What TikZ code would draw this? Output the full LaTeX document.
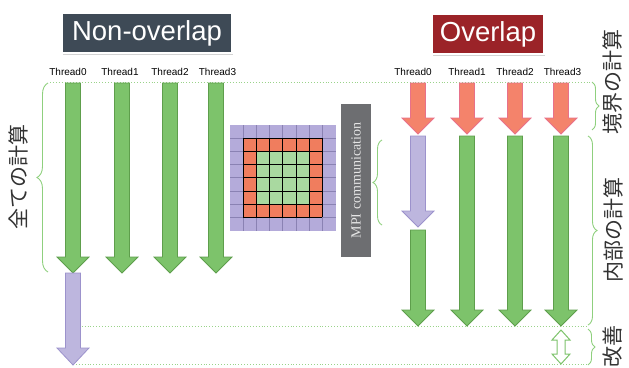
\documentclass[tikz,border=0pt]{standalone}
\usepackage{fontspec}
\setmainfont{Liberation Sans}
\newfontfamily\jpfont{Noto Sans CJK JP}
\newfontfamily\serifont{Liberation Serif}
\usetikzlibrary{decorations.pathreplacing,shadows}

\definecolor{arrgreen}{HTML}{7DC36B}
\definecolor{arrgreenedge}{HTML}{5E9E4C}
\definecolor{arrorange}{HTML}{F4836B}
\definecolor{arrorangeedge}{HTML}{E8718A}
\definecolor{arrlav}{HTML}{BDB6DE}
\definecolor{arrlavedge}{HTML}{9C92CC}
\definecolor{bracegreen}{HTML}{8FD07E}
\definecolor{dotgreen}{HTML}{9AD38A}
\definecolor{titledark}{HTML}{3E4A56}
\definecolor{titlered}{HTML}{9B2328}
\definecolor{mpigray}{HTML}{6D6E71}
\definecolor{cellborder}{HTML}{B4ABDA}
\definecolor{cellline}{HTML}{8A82B3}
\definecolor{cellring}{HTML}{F07D5E}
\definecolor{cellinner}{HTML}{A9D9A0}
\definecolor{jptext}{HTML}{333333}

% down arrow: x, top, head base, tip, style
\newcommand{\dnarrow}[5]{%
  \draw[#5] (#1-7.5,#2) -- (#1+7.5,#2) -- (#1+7.5,#3) -- (#1+16,#3)
    -- (#1,#4) -- (#1-16,#3) -- (#1-7.5,#3) -- cycle;}

\tikzset{
  greenarr/.style={fill=arrgreen,draw=arrgreenedge,line width=0.8pt,line join=miter},
  orangearr/.style={fill=arrorange,draw=arrorangeedge,line width=0.8pt},
  lavarr/.style={fill=arrlav,draw=arrlavedge,line width=0.8pt},
  threadlbl/.style={font=\fontsize{10}{12}\selectfont,inner sep=0pt},
  titlebox/.style={draw=white,line width=2pt,text=white,minimum height=40pt,
    font=\fontsize{27.5}{30}\selectfont,inner xsep=8pt,
    drop shadow={shadow xshift=1pt,shadow yshift=-1.5pt,opacity=0.35}},
  jplbl/.style={rotate=90,text=jptext,font=\jpfont\fontsize{21}{24}\selectfont,inner sep=0pt},
  bracelbl/.style={draw=bracegreen,line width=0.9pt,decorate},
  dotline/.style={draw=dotgreen,dotted,line width=0.9pt},
}

\begin{document}
\begin{tikzpicture}[x=1pt,y=-1pt]
\useasboundingbox (0,0) rectangle (629,367);

% titles
\node[titlebox,fill=titledark,minimum width=170pt] (tnon) at (147,33) {Non-overlap};
\node[titlebox,fill=titlered,minimum width=110pt] (tov) at (488,34) {Overlap};

% thread labels
\foreach \n/\x in {0/68,1/120,2/170,3/217.5}
  \node[threadlbl] (nl\n) at (\x,72) {Thread\n};
\foreach \n/\x in {0/413,1/467,2/515,3/562.5}
  \node[threadlbl] (ol\n) at (\x,72) {Thread\n};

% dotted guide lines
\coordinate (dA1) at (50,82);  \coordinate (dA2) at (592,82);
\coordinate (dB1) at (73,326); \coordinate (dB2) at (587,326);
\coordinate (dC1) at (73,364); \coordinate (dC2) at (587,364);
\draw[dotline] (dA1) -- (dA2);
\draw[dotline] (dB1) -- (dB2);
\draw[dotline] (dC1) -- (dC2);

% non-overlap: computation, then communication
\foreach \x in {73,122,170,216} {\dnarrow{\x}{83}{257}{273}{greenarr}}
\dnarrow{73}{273}{348}{365}{lavarr}

% overlap: boundary, communication + interior
\foreach \x in {418,467,515,561} {\dnarrow{\x}{83}{118}{134}{orangearr}}
\dnarrow{418}{136}{211}{227}{lavarr}
\dnarrow{418}{230}{310}{326}{greenarr}
\foreach \x in {467,515,561} {\dnarrow{\x}{136}{310}{326}{greenarr}}

% gain: double-headed hollow arrow
\draw[fill=white,draw=arrgreen,line width=1pt]
  (561,330) -- (570,340) -- (565,340) -- (565,354) -- (570,354) -- (561,364)
  -- (552,354) -- (557,354) -- (557,340) -- (552,340) -- cycle;

% domain grid: 8x8 cells, halo ring, boundary ring, interior
\begin{scope}[shift={(230,125)},x=13.2pt,y=-13.2pt]
  \fill[cellborder] (0,0) rectangle (8,8);
  \fill[cellring] (1,1) rectangle (7,7);
  \fill[cellinner] (2,2) rectangle (6,6);
  \foreach \i in {1,...,7} {
    \draw[draw=cellline,line width=0.7pt] (\i,0) -- (\i,8);
    \draw[draw=cellline,line width=0.7pt] (0,\i) -- (8,\i);
  }
  \foreach \i in {1,...,7} {
    \draw[draw=black,line width=0.8pt] (\i,1) -- (\i,7);
    \draw[draw=black,line width=0.8pt] (1,\i) -- (7,\i);
  }
\end{scope}

% MPI communication box
\node[fill=mpigray,minimum width=30pt,minimum height=153pt,inner sep=0pt] (mpi) at (356,180.5) {};
\node[rotate=90,text=white!90!black,font=\serifont\fontsize{14}{16}\selectfont] (mpit) at (mpi.center) {MPI communication};

% braces
\coordinate (bL1) at (48,272); \coordinate (bL2) at (48,83);
\draw[bracelbl,decoration={brace,amplitude=11pt,aspect=0.5}] (bL1) -- (bL2);
\coordinate (bM1) at (382,225); \coordinate (bM2) at (382,140);
\draw[bracelbl,decoration={brace,amplitude=9pt}] (bM1) -- (bM2);
\coordinate (bR1) at (592,82); \coordinate (bR2) at (592,130);
\draw[bracelbl,decoration={brace,amplitude=7pt}] (bR1) -- (bR2);
\coordinate (bS1) at (588,136); \coordinate (bS2) at (588,325);
\draw[bracelbl,decoration={brace,amplitude=9pt}] (bS1) -- (bS2);
\coordinate (bT1) at (588,329); \coordinate (bT2) at (588,365);
\draw[bracelbl,decoration={brace,amplitude=7pt}] (bT1) -- (bT2);

% labels
\node[jplbl] (jall) at (18,177) {全ての計算};
\node[jplbl] (jbnd) at (613,82) {境界の計算};
\node[jplbl] (jint) at (613,230) {内部の計算};
\node[jplbl] (jimp) at (613,346) {改善};
\end{tikzpicture}
\end{document}
